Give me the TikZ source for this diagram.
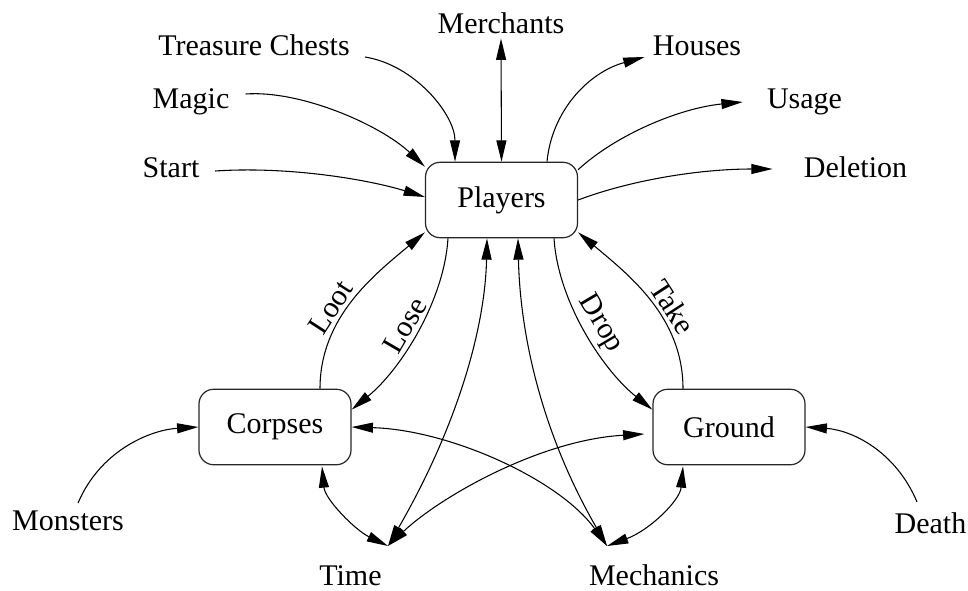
\documentclass[tikz,border=0pt]{standalone}
\usepackage{fontspec}
\setmainfont{Liberation Serif}
\usetikzlibrary{arrows.meta,calc}

\begin{document}
\begin{tikzpicture}[x=0.75pt,y=-0.75pt,
  every node/.style={font=\fontsize{22.5}{27}\selectfont},
  store/.style={draw=black!85,line width=0.9pt,rounded corners=11pt,
    minimum width=114pt,minimum height=56.6pt,inner sep=0pt},
  term/.style={inner sep=0pt,anchor=base},
  link/.style={line width=0.8pt},
  tip/.tip={Triangle[length=16pt,width=7.5pt]},
  one/.style={link,-tip},
  both/.style={link,tip-tip},
  lbl/.style={sloped,above,inner sep=2.5pt}]
\useasboundingbox (0,0) rectangle (968,590);

% central stores
\node[store] (players) at (501.5,200) {Players};
\node[store] (corpses) at (275,427) {Corpses};
\node[store] (ground)  at (729,427) {Ground};

% sources and sinks around them
\node[term] (tchest)   at (254,55)    {Treasure Chests};
\node[term] (merch)    at (501,33)    {Merchants};
\node[term] (houses)   at (697,55)    {Houses};
\node[term] (magic)    at (191,108)   {Magic};
\node[term] (usage)    at (804.5,108) {Usage};
\node[term] (start)    at (171,177)   {Start};
\node[term] (deletion) at (855.5,177) {Deletion};
\node[term] (monsters) at (68,530)    {Monsters};
\node[term] (death)    at (930.5,533) {Death};
\node[term] (time)     at (350.5,585) {Time};
\node[term] (mech)     at (654,585)   {Mechanics};
\coordinate (timept) at (388,546);
\coordinate (mechpt) at (607,546);

% flows into and out of the players
\draw[one] ($(tchest.base east)+(15,2)$) .. controls +(50,8) and +(0,-47) .. ($(players.north)+(-46.5,0)$);
\draw[both] ($(merch.south)+(0,5)$) -- (players.north);
\draw[one] ($(players.north)+(45.5,0)$) .. controls +(5,-52) and +(-55,15) .. ($(houses.base west)+(-8,2)$);
\draw[one] ($(magic.base east)+(16,-14)$) .. controls +(55,-4) and +(-45,-42) .. ($(players.north west)+(0,5)$);
\draw[one] ($(start.base east)+(15.5,-6)$) .. controls +(75,-5) and +(-55,-17) .. ($(players.west)+(0,-3)$);
\draw[one] ($(players.north east)+(0,8)$) .. controls +(38,-35) and +(-63,6) .. ($(usage.base west)+(-24,-6)$);
\draw[one] (players.east) .. controls +(53,-20) and +(-73,0) .. ($(deletion.base west)+(-31,-8)$);

% exchanges between the stores
\draw[one] ($(corpses.north)+(45,0)$) .. controls +(0,-72) and +(-50,42) .. node[lbl,pos=0.4] {Loot} ($(players.south west)+(0,-6)$);
\draw[one] ($(players.south)+(-53.5,0)$) .. controls +(-4,63) and +(49,-40) .. node[lbl,pos=0.5] {Lose} ($(corpses.north east)+(0,21)$);
\draw[one] ($(players.south)+(52.5,0)$) .. controls +(4,63) and +(-50,-40) .. node[lbl,pos=0.5] {Drop} ($(ground.north west)+(0,21)$);
\draw[one] ($(ground.north)+(-46,0)$) .. controls +(0,-72) and +(50,42) .. node[lbl,pos=0.4] {Take} ($(players.south east)+(0,-6)$);

% time and mechanics
\draw[both] (timept) .. controls +(67,-116) and +(-2,93) .. ($(players.south)+(-14.5,0)$);
\draw[both] (mechpt) .. controls +(-67,-116) and +(2,93) .. ($(players.south)+(16.5,0)$);
\draw[both] ($(corpses.south)+(47,1)$) .. controls +(3,33) and +(-33,-16) .. (timept);
\draw[both] ($(ground.west)+(-8,7)$) .. controls +(-105,6) and +(52,-49) .. (timept);
\draw[both] (corpses.east) .. controls +(99,3) and +(-47,-66) .. (mechpt);
\draw[both] ($(ground.south)+(-46,1)$) .. controls +(-3,34) and +(43,-16) .. (mechpt);

% monsters and death
\draw[one] ($(monsters.north)+(10,-7)$) .. controls +(22,-52) and +(-49,3) .. (corpses.west);
\draw[one] ($(death.north)+(-13.5,-10)$) .. controls +(-22,-52) and +(45,3) .. (ground.east);
\end{tikzpicture}
\end{document}
